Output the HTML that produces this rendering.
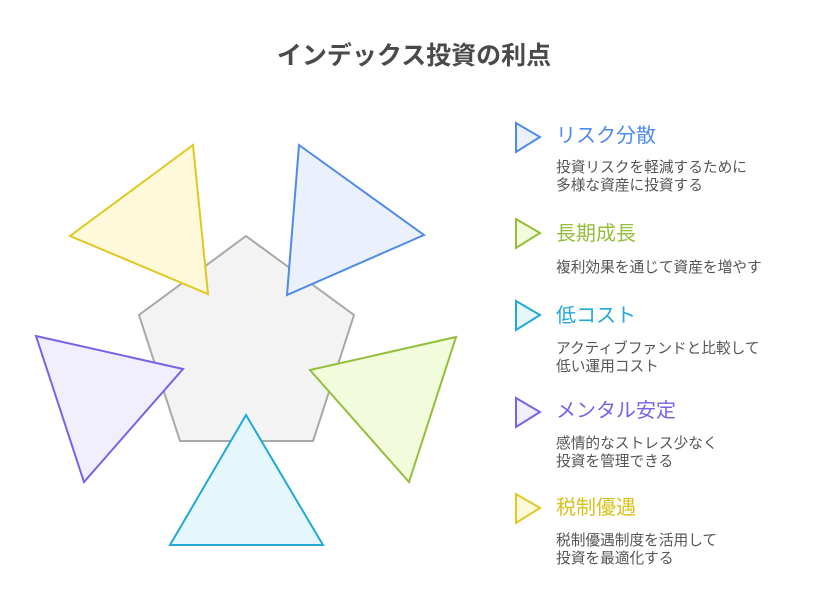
<!DOCTYPE html>
<html><head><meta charset="utf-8"><style>
html,body{margin:0;padding:0;background:#fff;}
svg text{font-family:"Liberation Sans","Noto Sans CJK JP",sans-serif;}
</style></head><body>
<svg width="828" height="600" viewBox="0 0 828 600" xmlns="http://www.w3.org/2000/svg">
<rect width="828" height="600" fill="#fff"/>
<text x="414" y="64" text-anchor="middle" font-size="25" font-weight="bold" fill="#4a4a4a">インデックス投資の利点</text>
<polygon points="246,236 354,315 313,441 180,441 139,315" fill="#f3f3f3" stroke="#a8a8a8" stroke-width="2"/>
<polygon points="193,145 70,236 208,294" fill="#fef9db" stroke="#e0c820" stroke-width="2"/>
<polygon points="299,145 424,235 287,295" fill="#eaf1fd" stroke="#4f8be8" stroke-width="2"/>
<polygon points="456,337 310,370 409,482" fill="#f2fcdc" stroke="#94bf3a" stroke-width="2"/>
<polygon points="36,336 84,482 183,369" fill="#f1effd" stroke="#7b61e8" stroke-width="2"/>
<polygon points="246,415 170,545 323,545" fill="#e5f6fc" stroke="#22a9d8" stroke-width="2"/>

<polygon points="516,123 540,137 516,152" fill="#eaf1fd" stroke="#4f8be8" stroke-width="2"/>
<text x="556" y="142" font-size="20" fill="#4f8be8">リスク分散</text>
<text x="556" y="172" font-size="14.7" fill="#555">投資リスクを軽減するために</text>
<text x="556" y="190" font-size="14.7" fill="#555">多様な資産に投資する</text>

<polygon points="516,219 540,233 516,248" fill="#f2fcdc" stroke="#94bf3a" stroke-width="2"/>
<text x="556" y="240" font-size="20" fill="#94bf3a">長期成長</text>
<text x="556" y="272" font-size="14.7" fill="#555">複利効果を通じて資産を増やす</text>

<polygon points="516,301 540,315 516,330" fill="#e5f6fc" stroke="#22a9d8" stroke-width="2"/>
<text x="556" y="322" font-size="20" fill="#22a9d8">低コスト</text>
<text x="556" y="353" font-size="14.7" fill="#555">アクティブファンドと比較して</text>
<text x="556" y="371" font-size="14.7" fill="#555">低い運用コスト</text>

<polygon points="516,398 540,412 516,427" fill="#f1effd" stroke="#7b61e8" stroke-width="2"/>
<text x="556" y="417" font-size="20" fill="#7b61e8">メンタル安定</text>
<text x="556" y="448" font-size="14.7" fill="#555">感情的なストレス少なく</text>
<text x="556" y="466" font-size="14.7" fill="#555">投資を管理できる</text>

<polygon points="516,494 540,508 516,523" fill="#fef9db" stroke="#e0c820" stroke-width="2"/>
<text x="556" y="514" font-size="20" fill="#d9c21c">税制優遇</text>
<text x="556" y="545" font-size="14.7" fill="#555">税制優遇制度を活用して</text>
<text x="556" y="563" font-size="14.7" fill="#555">投資を最適化する</text>
</svg>
</body></html>
